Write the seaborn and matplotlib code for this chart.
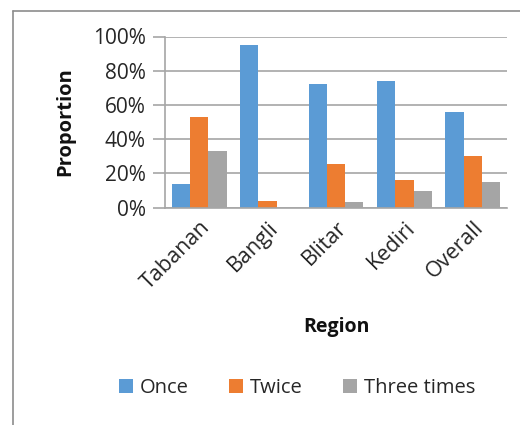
import matplotlib
matplotlib.use("Agg")
import matplotlib.pyplot as plt
from matplotlib.lines import Line2D
from matplotlib.ticker import PercentFormatter
import pandas as pd
import seaborn as sns

regions = ["Tabanan", "Bangli", "Blitar", "Kediri", "Overall"]
once = [0.14, 0.95, 0.72, 0.74, 0.56]
twice = [0.53, 0.04, 0.255, 0.16, 0.30]
three_times = [0.33, 0.0, 0.03, 0.095, 0.15]
series_names = ["Once", "Twice", "Three times"]
colors = ["#5B9BD5", "#ED7D31", "#A5A5A5"]
y_ticks = [0, 0.2, 0.4, 0.6, 0.8, 1.0]

df = pd.DataFrame({
    "Region": regions * 3,
    "Proportion": once + twice + three_times,
    "Frequency": [s for s in series_names for _ in regions],
})

sns.set_theme(style="white")
plt.rcParams["font.family"] = ["Open Sans", "DejaVu Sans"]

fig = plt.figure(figsize=(5.2, 4.25), dpi=100)
ax = fig.add_axes([165 / 520, 1 - 207.5 / 425, 342 / 520, 171 / 425])

sns.barplot(data=df, x="Region", y="Proportion", hue="Frequency",
            palette=colors, saturation=1, width=0.8, ax=ax, errorbar=None,
            linewidth=0)

grid_col = "#A6A6A6"
text_col = "#262626"
ax.set_ylim(0, 1)
ax.set_yticks(y_ticks)
ax.yaxis.set_major_formatter(PercentFormatter(1.0, decimals=0))
ax.yaxis.grid(True, color=grid_col, linewidth=1.2)
ax.set_axisbelow(True)
for side in ["top", "right"]:
    ax.spines[side].set_visible(False)
for side in ["left", "bottom"]:
    ax.spines[side].set_color(grid_col)
    ax.spines[side].set_linewidth(1.2)

ax.tick_params(axis="y", left=True, length=9, color=grid_col, width=1.2,
               labelsize=15, labelcolor=text_col, pad=5)
ax.tick_params(axis="x", bottom=False, labelsize=15.5, labelcolor=text_col, pad=1)
for lbl in ax.get_xticklabels():
    lbl.set_rotation(45)
    lbl.set_ha("right")
    lbl.set_rotation_mode("anchor")

ax.set_xlabel("Region", fontsize=14, fontweight="bold", color="#111111")
ax.xaxis.set_label_coords(0.5, -(327 - 207.5) / 171, transform=ax.transAxes)
ax.xaxis.label.set_va("center")
ax.set_ylabel("Proportion", fontsize=14.5, fontweight="bold", color="#111111")
ax.yaxis.set_label_coords(-(165 - 65) / 342, 0.5, transform=ax.transAxes)
ax.yaxis.label.set_va("center")

handles, labels = ax.get_legend_handles_labels()
ax.get_legend().remove()
fig.legend(handles, labels, loc="center", bbox_to_anchor=(297 / 520, 1 - 388 / 425),
           ncol=3, frameon=False, fontsize=14.5, handlelength=0.7, handleheight=0.7,
           handletextpad=0.35, columnspacing=2.0)

# outer chart frame
fig.add_artist(Line2D([13 / 520, 13 / 520], [0, 1 - 11 / 425], transform=fig.transFigure,
                      color="#8C8C8C", linewidth=1.2))
fig.add_artist(Line2D([13 / 520, 1], [1 - 11 / 425, 1 - 11 / 425], transform=fig.transFigure,
                      color="#8C8C8C", linewidth=1.2))

fig.savefig("out.png", dpi=100)
